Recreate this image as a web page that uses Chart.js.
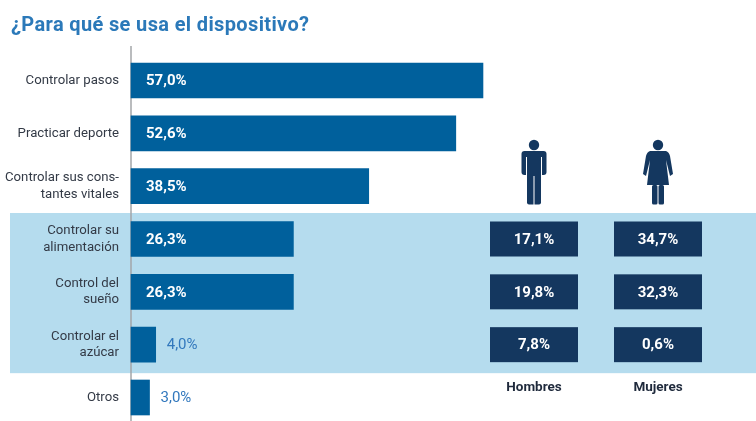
<!DOCTYPE html>
<html lang="es">
<head>
<meta charset="utf-8">
<title>¿Para qué se usa el dispositivo?</title>
<script src="https://cdn.jsdelivr.net/npm/chart.js@4"></script>
<style>
  html, body { margin: 0; padding: 0; background: #fff; overflow: hidden; }
  #wrap { position: relative; width: 756px; height: 421px; }
  h1 {
    position: absolute; left: 11px; top: 12px; margin: 0;
    font: 700 20px/24px Roboto, sans-serif;
    letter-spacing: 0.36px;
    color: #2b79b9;
  }
</style>
</head>
<body>
<div id="wrap">
  <canvas id="chart"></canvas>
  <h1>¿Para qué se usa el dispositivo?</h1>
</div>
<script>
const usos = [
  'Controlar pasos',
  'Practicar deporte',
  ['Controlar sus cons-', 'tantes vitales'],
  ['Controlar su', 'alimentación'],
  ['Control del', 'sueño'],
  ['Controlar el', 'azúcar'],
  'Otros'
];
const total = [57.0, 52.6, 38.5, 26.3, 26.3, 4.0, 3.0];
const hombres = [null, null, null, 17.1, 19.8, 7.8, null];
const mujeres = [null, null, null, 34.7, 32.3, 0.6, null];

const AZUL_BARRA = '#00609c';
const AZUL_OSCURO = '#14375f';
const AZUL_TEXTO = '#3278bd';
const FONDO_BANDA = '#b5dcee';
const FUENTE = 'Roboto, sans-serif';

function pct(v) {
  return v.toFixed(1).replace('.', ',') + '%';
}

// franja azul detrás de las tres filas con desglose por sexo, y línea del eje
const banda = {
  id: 'banda',
  beforeDraw(chart) {
    const { ctx, scales: { y } } = chart;
    const top = y.getPixelForValue(3) - 26;
    const bottom = y.getPixelForValue(5) + 28.5;
    ctx.save();
    ctx.fillStyle = FONDO_BANDA;
    ctx.fillRect(10, top, 746, bottom - top);
    ctx.strokeStyle = '#a3a6a8';
    ctx.lineWidth = 1.5;
    ctx.beginPath();
    ctx.moveTo(y.right, 46);
    ctx.lineTo(y.right, 421);
    ctx.stroke();
    ctx.restore();
  }
};

const etiquetas = {
  id: 'etiquetas',
  afterDatasetsDraw(chart) {
    const { ctx } = chart;
    const barras = chart.getDatasetMeta(0).data;
    ctx.save();
    ctx.textBaseline = 'middle';
    ctx.textAlign = 'left';
    barras.forEach((bar, i) => {
      if (total[i] > 10) {
        ctx.font = '700 15px ' + FUENTE;
        ctx.fillStyle = '#fff';
        ctx.fillText(pct(total[i]), bar.base + 15, bar.y + 1);
      } else {
        ctx.font = '400 15px ' + FUENTE;
        ctx.fillStyle = AZUL_TEXTO;
        ctx.fillText(pct(total[i]), bar.x + 11, bar.y + 1);
      }
    });
    ctx.restore();
  }
};

// cajas de hombres y mujeres, alineadas con las filas del eje y
function columnaSexo(ctx, y, valores, xCentro, titulo) {
  ctx.font = '700 15px ' + FUENTE;
  valores.forEach((v, i) => {
    if (v === null) return;
    const cy = y.getPixelForValue(i);
    ctx.fillStyle = AZUL_OSCURO;
    ctx.fillRect(xCentro - 44, cy - 17.5, 88, 35);
    ctx.fillStyle = '#fff';
    ctx.fillText(pct(v), xCentro, cy + 1);
  });
  ctx.fillStyle = '#1f2a3c';
  ctx.font = '700 13.5px ' + FUENTE;
  ctx.fillText(titulo, xCentro, 388);
}

function dibujaHombre(ctx, cx) {
  ctx.fillStyle = AZUL_OSCURO;
  ctx.beginPath();
  ctx.arc(cx, 145, 5.2, 0, Math.PI * 2);
  ctx.fill();
  ctx.beginPath();
  ctx.roundRect(cx - 12.5, 151, 25, 24, 3);
  ctx.fill();
  ctx.beginPath();
  ctx.roundRect(cx - 7, 160, 14, 44.5, 2);
  ctx.fill();
  // separación entre brazos, tronco y piernas
  ctx.fillStyle = '#fff';
  ctx.fillRect(cx - 8, 157, 1, 19);
  ctx.fillRect(cx + 7, 157, 1, 19);
  ctx.fillRect(cx - 0.5, 176, 1, 29);
}

function dibujaMujer(ctx, cx) {
  ctx.fillStyle = AZUL_OSCURO;
  ctx.beginPath();
  ctx.arc(cx, 145, 5.2, 0, Math.PI * 2);
  ctx.fill();
  // brazos y hombros
  ctx.beginPath();
  ctx.moveTo(cx - 8, 151);
  ctx.lineTo(cx + 8, 151);
  ctx.quadraticCurveTo(cx + 11, 152, cx + 12, 156);
  ctx.lineTo(cx + 15, 174);
  ctx.lineTo(cx + 12, 176);
  ctx.lineTo(cx + 8, 160);
  ctx.lineTo(cx + 11, 185);
  ctx.lineTo(cx - 11, 185);
  ctx.lineTo(cx - 8, 160);
  ctx.lineTo(cx - 12, 176);
  ctx.lineTo(cx - 15, 174);
  ctx.lineTo(cx - 12, 156);
  ctx.quadraticCurveTo(cx - 11, 152, cx - 8, 151);
  ctx.closePath();
  ctx.fill();
  // piernas
  ctx.beginPath();
  ctx.roundRect(cx - 6, 185, 5.5, 19.5, 1.5);
  ctx.roundRect(cx + 0.5, 185, 5.5, 19.5, 1.5);
  ctx.fill();
}

const desglose = {
  id: 'desglose',
  afterDatasetsDraw(chart) {
    const { ctx, scales: { y } } = chart;
    ctx.save();
    ctx.textAlign = 'center';
    ctx.textBaseline = 'middle';
    columnaSexo(ctx, y, hombres, 534, 'Hombres');
    columnaSexo(ctx, y, mujeres, 658, 'Mujeres');
    dibujaHombre(ctx, 534);
    dibujaMujer(ctx, 658);
    ctx.restore();
  }
};

new Chart(document.getElementById('chart'), {
  type: 'bar',
  data: {
    labels: usos,
    datasets: [{
      data: total,
      backgroundColor: AZUL_BARRA,
      barThickness: 35,
      clip: false
    }]
  },
  options: {
    indexAxis: 'y',
    responsive: true,
    maintainAspectRatio: false,
    animation: false,
    layout: { padding: { left: 0, right: 7.5, top: 80.5, bottom: 23.5 } },
    plugins: {
      legend: { display: false },
      tooltip: { enabled: false }
    },
    scales: {
      x: {
        display: false,
        min: 0,
        max: 100
      },
      y: {
        offset: false,
        afterFit(scale) { scale.width = 131; },
        grid: { display: false, drawTicks: false },
        border: { display: false },
        ticks: {
          color: '#333a46',
          padding: 12,
          font: { family: FUENTE, size: 13.2, lineHeight: 1.25 }
        }
      }
    }
  },
  plugins: [banda, etiquetas, desglose]
});
</script>
</body>
</html>
